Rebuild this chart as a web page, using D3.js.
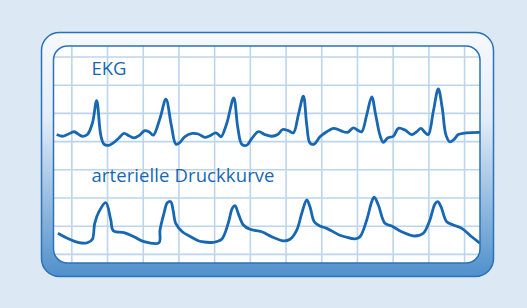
<!DOCTYPE html>
<html>
<head>
<meta charset="utf-8">
<script src="https://cdn.jsdelivr.net/npm/d3@7"></script>
<style>
  html, body { margin: 0; padding: 0; background: #dce8f4; }
  svg { display: block; }
</style>
</head>
<body>
<div id="chart"></div>
<script>
// grid: columns every 0.2 s, rows just counted
const gridCols = [0.1, 0.3, 0.5, 0.7, 0.9, 1.1, 1.3, 1.5, 1.7, 1.9, 2.1, 2.3];
const gridRows = [0, 1, 2, 3, 4, 5, 6, 7];

// labels
const ekgLabel = "EKG";
const pressureLabel = "arterielle Druckkurve";

// EKG trace: time (s), voltage (mV)
const ekgTime = [0.015, 0.047, 0.075, 0.112, 0.131, 0.159, 0.187, 0.215, 0.239, 0.262, 0.280, 0.308, 0.336, 0.364, 0.392, 0.420, 0.448, 0.476, 0.508, 0.532, 0.556, 0.594, 0.627, 0.657, 0.683, 0.706, 0.732, 0.775, 0.808, 0.846, 0.874, 0.906, 0.924, 0.936, 0.968, 1.007, 1.029, 1.052, 1.080, 1.108, 1.145, 1.182, 1.220, 1.253, 1.281, 1.313, 1.341, 1.369, 1.397, 1.416, 1.434, 1.458, 1.490, 1.528, 1.565, 1.598, 1.612, 1.645, 1.677, 1.705, 1.724, 1.752, 1.780, 1.802, 1.826, 1.845, 1.869, 1.901, 1.929, 1.966, 2.004, 2.032, 2.056, 2.078, 2.097, 2.125, 2.153, 2.175, 2.196, 2.218, 2.243, 2.265, 2.312, 2.396];
const ekgVolt = [-0.01, -0.04, -0.01, 0.04, 0.01, -0.04, -0.01, 0.19, 0.59, -0.02, -0.18, -0.20, -0.15, -0.07, 0.01, -0.03, -0.07, -0.03, 0.06, 0.04, -0.02, 0.28, 0.62, 0.16, -0.18, -0.15, -0.05, 0.01, 0.00, -0.06, -0.03, 0.02, -0.02, -0.05, 0.19, 0.64, 0.13, -0.18, -0.20, -0.08, 0.04, -0.01, -0.04, -0.01, 0.08, 0.06, 0.02, 0.34, 0.67, 0.16, -0.16, -0.18, -0.05, 0.04, 0.10, 0.07, 0.05, 0.03, 0.11, 0.06, 0.04, 0.34, 0.66, 0.34, -0.02, -0.15, -0.07, -0.04, 0.10, 0.07, -0.01, 0.04, 0.10, 0.03, -0.01, 0.40, 0.80, 0.46, -0.02, -0.14, -0.09, -0.01, 0.02, 0.03];

// arterial pressure trace: time (s), pressure (mmHg)
const bpTime = [0.022, 0.075, 0.140, 0.187, 0.215, 0.228, 0.252, 0.290, 0.318, 0.332, 0.392, 0.448, 0.504, 0.588, 0.594, 0.616, 0.635, 0.654, 0.667, 0.682, 0.719, 0.766, 0.808, 0.827, 0.892, 0.939, 0.976, 0.999, 1.014, 1.032, 1.061, 1.098, 1.164, 1.220, 1.285, 1.322, 1.360, 1.388, 1.416, 1.434, 1.458, 1.490, 1.528, 1.598, 1.630, 1.686, 1.714, 1.752, 1.780, 1.794, 1.817, 1.854, 1.892, 1.948, 2.022, 2.069, 2.106, 2.134, 2.150, 2.168, 2.200, 2.237, 2.284, 2.340, 2.387];
const bpValue = [88.3, 83.5, 79.3, 79.3, 82.6, 97.8, 108.9, 117.4, 101.0, 90.8, 88.9, 85.0, 80.3, 79.3, 91.4, 107.3, 117.4, 118.4, 110.5, 97.8, 89.8, 85.0, 81.2, 80.3, 79.7, 82.6, 97.8, 112.1, 114.6, 107.3, 96.2, 92.1, 89.8, 85.0, 81.0, 82.6, 91.4, 107.3, 120.0, 113.6, 99.3, 95.2, 93.0, 86.7, 85.0, 82.9, 85.0, 101.0, 118.4, 122.6, 115.2, 97.8, 95.2, 89.8, 85.7, 88.3, 101.0, 116.2, 118.4, 113.6, 99.3, 96.2, 93.0, 85.0, 78.8];

const width = 527, height = 308;
const blue = "#1767b3";

let svg = d3.select("#chart")
    .append("svg")
    .attr("width", width)
    .attr("height", height);

let defs = svg.append("defs");

//frame gradient, light on top, blue at the bottom
let grad = defs.append("linearGradient")
    .attr("id", "frameGrad")
    .attr("x1", 0).attr("y1", 0).attr("x2", 0).attr("y2", 1);
grad.append("stop").attr("offset", "0%").attr("stop-color", "#f6f9fd");
grad.append("stop").attr("offset", "35%").attr("stop-color", "#e3edf8");
grad.append("stop").attr("offset", "100%").attr("stop-color", "#5090cb");

defs.append("clipPath")
    .attr("id", "screenClip")
    .append("rect")
    .attr("x", 53.5).attr("y", 46)
    .attr("width", 426.5).attr("height", 217)
    .attr("rx", 14).attr("ry", 14);

//scales
let x = d3.scaleLinear().domain([0, 2.4]).range([54, 482.4]);
let yGrid = d3.scaleLinear().domain([0, 1]).range([57, 85.2]);
let yEkg = d3.scaleLinear().domain([0, 1]).range([134, 77.6]);
let yBp = d3.scaleLinear().domain([80, 120]).range([242, 200]);

//outer frame
svg.append("rect")
    .attr("x", 41.5).attr("y", 32.5)
    .attr("width", 452).attr("height", 244)
    .attr("rx", 18).attr("ry", 18)
    .attr("fill", "url(#frameGrad)")
    .attr("stroke", "#2a72b9")
    .attr("stroke-width", 1.5);

//screen
svg.append("rect")
    .attr("x", 53.5).attr("y", 46)
    .attr("width", 426.5).attr("height", 217)
    .attr("rx", 14).attr("ry", 14)
    .attr("fill", "#ffffff");

let screen = svg.append("g").attr("clip-path", "url(#screenClip)");

screen.selectAll(".vline")
    .data(gridCols)
    .join("line")
    .attr("class", "vline")
    .attr("x1", d => x(d)).attr("x2", d => x(d))
    .attr("y1", 40).attr("y2", 270)
    .attr("stroke", "#bcd5ec")
    .attr("stroke-width", 1.6);

screen.selectAll(".hline")
    .data(gridRows)
    .join("line")
    .attr("class", "hline")
    .attr("x1", 50).attr("x2", 485)
    .attr("y1", d => yGrid(d)).attr("y2", d => yGrid(d))
    .attr("stroke", "#bcd5ec")
    .attr("stroke-width", 1.6);

//the two traces
let ekgLine = d3.line()
    .x((d, i) => x(ekgTime[i]))
    .y(d => yEkg(d))
    .curve(d3.curveCatmullRom.alpha(0.5));

let bpLine = d3.line()
    .x((d, i) => x(bpTime[i]))
    .y(d => yBp(d))
    .curve(d3.curveCatmullRom.alpha(0.5));

screen.append("path")
    .attr("d", ekgLine(ekgVolt))
    .attr("fill", "none")
    .attr("stroke", blue)
    .attr("stroke-width", 2.8)
    .attr("stroke-linejoin", "round");

screen.append("path")
    .attr("d", bpLine(bpValue))
    .attr("fill", "none")
    .attr("stroke", blue)
    .attr("stroke-width", 2.8)
    .attr("stroke-linejoin", "round");

//screen border on top
svg.append("rect")
    .attr("x", 53.5).attr("y", 46)
    .attr("width", 426.5).attr("height", 217)
    .attr("rx", 14).attr("ry", 14)
    .attr("fill", "none")
    .attr("stroke", "#2a72b9")
    .attr("stroke-width", 1.5);

//labels
svg.append("text")
    .attr("x", 91.5).attr("y", 74.5)
    .attr("font-family", "Open Sans")
    .attr("font-size", 18.5)
    .attr("fill", blue)
    .text(ekgLabel);

svg.append("text")
    .attr("x", 91.5).attr("y", 182)
    .attr("font-family", "Open Sans")
    .attr("font-size", 18.5)
    .attr("textLength", 183)
    .attr("fill", blue)
    .text(pressureLabel);
</script>
</body>
</html>
